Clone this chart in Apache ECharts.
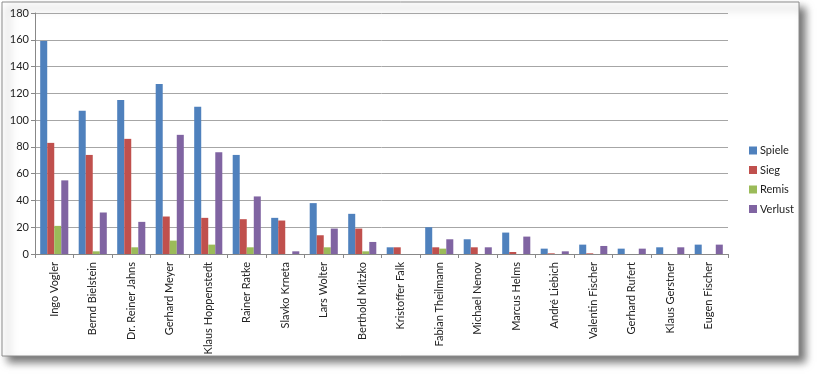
<!DOCTYPE html>
<html><head><meta charset="utf-8">
<script src="https://cdn.jsdelivr.net/npm/echarts@6/dist/echarts.min.js"></script>
<style>html,body{margin:0;padding:0;background:#fff}#c{width:820px;height:377px}</style>
</head><body><div id="c"></div>
<script>
const categories = ["Ingo Vogler","Bernd Bielstein","Dr. Reiner Jahns","Gerhard Meyer","Klaus Hoppenstedt","Rainer Ratke","Slavko Krneta","Lars Wolter","Berthold Mitzko","Kristoffer Falk","Fabian Theilmann","Michael Nenov","Marcus Helms","André Liebich","Valentin Fischer","Gerhard Rufert","Klaus Gerstner","Eugen Fischer"];
const spiele  = [159,107,115,127,110,74,27,38,30,5,20,11,16,4,7,4,5,7];
const sieg    = [83,74,86,28,27,26,25,14,19,5,5,5,1.5,0.5,0.5,0,0,0];
const remis   = [21,2,5,10,7,5,0,5,2,0,4,0,0,0,0,0,0,0];
const verlust = [55,31,24,89,76,43,2,19,9,0,11,5,13,2,6,4,5,7];
const yTicks = {min:0, max:180, interval:20};

const chart = echarts.init(document.getElementById('c'));
const font = 'Lato, "Open Sans", sans-serif';
function s(name, data, color){return {name, type:'bar', data, barGap:'0%', barCategoryGap:'27%', itemStyle:{color}};}
chart.setOption({
  animation:false,
  textStyle:{fontFamily:font},
  graphic:[{type:'rect', z:-10, shape:{x:2,y:2,width:797,height:354},
    style:{fill:'#fff', stroke:'#8c8c8c', lineWidth:1, shadowBlur:8, shadowOffsetX:6, shadowOffsetY:6, shadowColor:'rgba(0,0,0,0.55)'}}],
  grid:{left:35, right:92, top:13, bottom:123},
  legend:{orient:'vertical', left:744, top:140, itemWidth:8, itemHeight:8, itemGap:8.5, icon:'rect',
    textStyle:{fontSize:11, color:'#222', fontFamily:font, padding:[0,0,0,-2]},
    data:['Spiele','Sieg','Remis','Verlust']},
  xAxis:{type:'category', data:categories,
    axisLine:{lineStyle:{color:'#888'}},
    axisTick:{show:true, length:4, lineStyle:{color:'#888'}},
    axisLabel:{rotate:90, fontSize:11, color:'#222', margin:8, interval:0, fontFamily:font}},
  yAxis:{type:'value', min:yTicks.min, max:yTicks.max, interval:yTicks.interval,
    axisLine:{show:true, lineStyle:{color:'#888'}},
    axisTick:{show:true, length:4, lineStyle:{color:'#888'}},
    axisLabel:{fontSize:11, color:'#222', margin:6, fontFamily:font},
    splitLine:{lineStyle:{color:'#a6a6a6'}}},
  series:[s('Spiele',spiele,'#4f81bd'), s('Sieg',sieg,'#c0504d'), s('Remis',remis,'#9bbb59'), s('Verlust',verlust,'#8064a2')]
});
</script></body></html>
